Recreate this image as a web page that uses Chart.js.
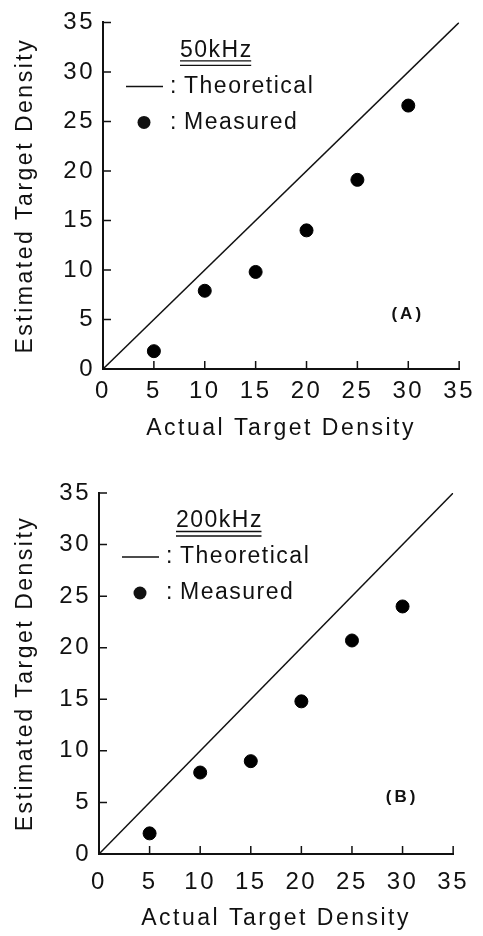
<!DOCTYPE html>
<html lang="en">
<head>
    <meta charset="UTF-8">
    <title>Estimated vs Actual Target Density</title>
    <style>
        body {
            margin: 0;
            background-color: #ffffff;
            width: 483px;
            height: 936px;
            position: relative;
            overflow: hidden;
        }
        .chart-box {
            position: absolute;
            left: 0;
            width: 483px;
        }
        #boxA { top: 0; height: 460px; }
        #boxB { top: 470px; height: 466px; }
    </style>
</head>
<body>
    <div class="chart-box" id="boxA"><canvas id="chartA"></canvas></div>
    <div class="chart-box" id="boxB"><canvas id="chartB"></canvas></div>

    <script src="https://cdn.jsdelivr.net/npm/chart.js"></script>
    <script>
        // data
        const actualDensity = [5, 10, 15, 20, 25, 30];
        const measured50k = [1.8, 7.9, 9.8, 14.0, 19.1, 26.6];
        const measured200k = [2.0, 7.9, 9.0, 14.8, 20.7, 24.0];
        const theoryX = [0, 35];
        const theoryY = [0, 35];
        const tickValues = [0, 5, 10, 15, 20, 25, 30, 35];

        const FONT = "'Liberation Sans', Arial, sans-serif";
        const INK = "#111";

        // spacing the letters out like the hand lettering
        const spacingPlugin = {
            id: "spacing",
            beforeLayout(chart) { chart.ctx.letterSpacing = "2.5px"; },
            beforeDraw(chart) { chart.ctx.letterSpacing = "2.5px"; }
        };

        // inward tick marks + legend box + panel letter
        const decorPlugin = {
            id: "decor",
            afterDraw(chart, args, opts) {
                const ctx = chart.ctx;
                const area = chart.chartArea;
                const xs = chart.scales.x, ys = chart.scales.y;
                ctx.save();
                ctx.strokeStyle = INK;
                ctx.fillStyle = INK;
                ctx.lineWidth = 1.5;
                tickValues.forEach(v => {
                    const px = xs.getPixelForValue(v);
                    const py = ys.getPixelForValue(v);
                    ctx.beginPath();
                    ctx.moveTo(px, area.bottom);
                    ctx.lineTo(px, area.bottom - 8);
                    ctx.moveTo(area.left, py);
                    ctx.lineTo(area.left + 8, py);
                    ctx.stroke();
                });

                const L = area.left, T = area.top;
                ctx.letterSpacing = "1.5px";
                ctx.font = "23px " + FONT;
                ctx.textBaseline = "middle";
                ctx.textAlign = "left";

                // frequency heading, double underlined
                ctx.fillText(opts.heading, L + 77, T + 28);
                const w = ctx.measureText(opts.heading).width - 1.5;
                ctx.lineWidth = 1.3;
                ctx.beginPath();
                ctx.moveTo(L + 77, T + 38.5); ctx.lineTo(L + 77 + w, T + 38.5);
                ctx.moveTo(L + 77, T + 43); ctx.lineTo(L + 77 + w, T + 43);
                ctx.stroke();

                // theoretical entry
                ctx.lineWidth = 1.5;
                ctx.beginPath();
                ctx.moveTo(L + 23, T + 64); ctx.lineTo(L + 60, T + 64);
                ctx.stroke();
                ctx.fillText(":", L + 67, T + 64);
                ctx.fillText("Theoretical", L + 81, T + 64);

                // measured entry
                ctx.beginPath();
                ctx.arc(L + 41, T + 100, 6.5, 0, Math.PI * 2);
                ctx.fill();
                ctx.fillText(":", L + 67, T + 100);
                ctx.fillText("Measured", L + 81, T + 100);

                // panel letter
                ctx.font = "bold 17px " + FONT;
                ctx.letterSpacing = "3px";
                ctx.textAlign = "center";
                ctx.fillText(opts.panel, xs.getPixelForValue(29.8) + 1.5, ys.getPixelForValue(5.5));
                ctx.restore();
            }
        };

        function makeChart(id, measured, cfg) {
            const ctx = document.getElementById(id).getContext("2d");
            return new Chart(ctx, {
                type: "scatter",
                data: {
                    datasets: [{
                        type: "line",
                        label: "Theoretical",
                        data: theoryX.map((x, i) => ({ x: x, y: theoryY[i] })),
                        borderColor: INK,
                        borderWidth: 1.5,
                        pointRadius: 0,
                        fill: false
                    }, {
                        label: "Measured",
                        data: actualDensity.map((x, i) => ({ x: x, y: measured[i] })),
                        backgroundColor: "#000",
                        borderColor: "#000",
                        pointRadius: 6.5,
                        pointHoverRadius: 6.5
                    }]
                },
                options: {
                    responsive: true,
                    maintainAspectRatio: false,
                    animation: false,
                    layout: { padding: { top: cfg.top, right: cfg.right, left: 0, bottom: 0 } },
                    plugins: {
                        legend: { display: false },
                        tooltip: { enabled: false },
                        decor: { heading: cfg.heading, panel: cfg.panel }
                    },
                    scales: {
                        x: {
                            type: "linear",
                            min: 0, max: 35,
                            afterFit(scale) { scale.height = cfg.xHeight; },
                            afterBuildTicks(scale) { scale.ticks = tickValues.map(v => ({ value: v })); },
                            grid: { display: false, drawTicks: false },
                            border: { display: true, color: INK, width: 2 },
                            ticks: { color: INK, padding: cfg.xPad, maxRotation: 0, font: { family: FONT, size: 24 } },
                            title: {
                                display: true,
                                text: "Actual Target Density",
                                color: INK,
                                font: { family: FONT, size: 23 },
                                padding: { top: 4, bottom: cfg.xTitlePad }
                            }
                        },
                        y: {
                            type: "linear",
                            min: 0, max: 35,
                            afterFit(scale) { scale.width = cfg.yWidth; },
                            afterBuildTicks(scale) { scale.ticks = tickValues.map(v => ({ value: v })); },
                            grid: { display: false, drawTicks: false },
                            border: { display: true, color: INK, width: 2 },
                            ticks: { color: INK, padding: 8, font: { family: FONT, size: 24 } },
                            title: {
                                display: true,
                                text: "Estimated Target Density",
                                color: INK,
                                font: { family: FONT, size: 23 },
                                padding: { top: 12, bottom: 4 }
                            }
                        }
                    }
                },
                plugins: [spacingPlugin, decorPlugin]
            });
        }

        makeChart("chartA", measured50k, {
            heading: "50kHz", panel: "(A)",
            top: 15, right: 17, yWidth: 103, xHeight: 91, xPad: 8, xTitlePad: 18
        });
        makeChart("chartB", measured200k, {
            heading: "200kHz", panel: "(B)",
            top: 23, right: 23, yWidth: 99, xHeight: 82, xPad: 14, xTitlePad: 4
        });
    </script>
</body>
</html>
